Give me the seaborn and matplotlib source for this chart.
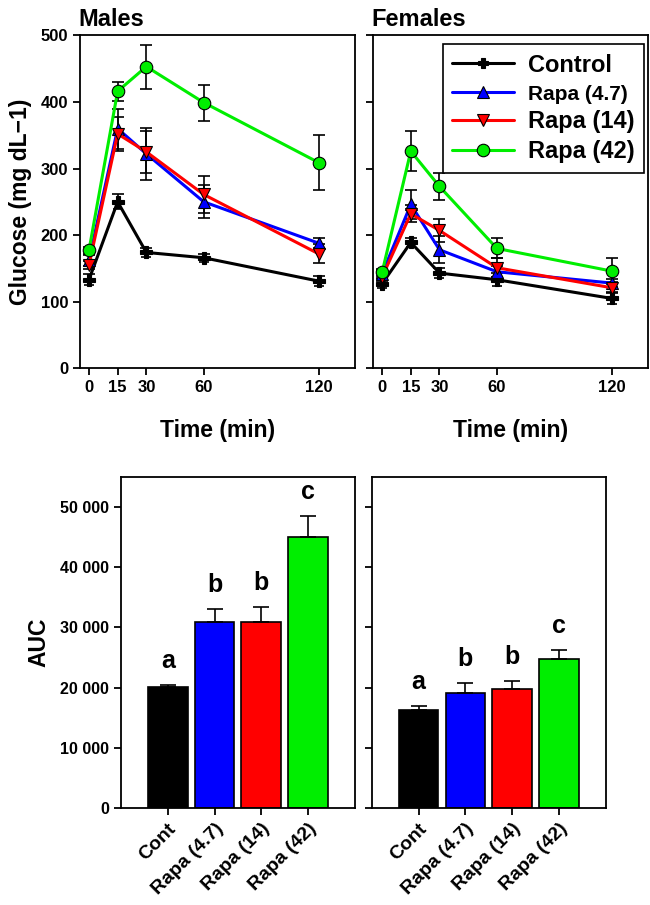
import numpy as np
import pandas as pd
import matplotlib
matplotlib.use('Agg')
import matplotlib.pyplot as plt
import matplotlib.ticker as mticker
import seaborn as sns

sns.set_style('ticks')
plt.rcParams['font.family'] = ['Liberation Sans', 'DejaVu Sans']
plt.rcParams['font.weight'] = 'bold'
plt.rcParams['axes.labelweight'] = 'bold'
for k in ['text.color', 'axes.labelcolor', 'xtick.color', 'ytick.color', 'axes.edgecolor']:
    plt.rcParams[k] = 'black'

# Groups and colours
groups = ['Control', 'Rapa (4.7)', 'Rapa (14)', 'Rapa (42)']
bar_labels = ['Cont', 'Rapa (4.7)', 'Rapa (14)', 'Rapa (42)']
colors = ['#000000', '#0000ff', '#ff0000', '#00ee00']
markers = ['P', '^', 'v', 'o']

# Time points (min)
times = [0, 15, 30, 60, 120]

# Glucose means / SEM, males
male_ctrl = [133, 250, 174, 166, 131]
male_r47 = [162, 360, 322, 250, 188]
male_r14 = [155, 352, 325, 261, 172]
male_r42 = [177, 416, 453, 399, 309]
male_ctrl_err = [8, 11, 7, 6, 7]
male_r47_err = [8, 30, 39, 25, 8]
male_r14_err = [6, 26, 32, 28, 14]
male_r42_err = [5, 14, 33, 27, 41]

# Glucose means / SEM, females
fem_ctrl = [127, 189, 143, 133, 105]
fem_r47 = [142, 246, 178, 145, 128]
fem_r14 = [137, 232, 207, 151, 121]
fem_r42 = [144, 326, 273, 180, 146]
fem_ctrl_err = [7, 7, 8, 10, 9]
fem_r47_err = [6, 22, 20, 8, 6]
fem_r14_err = [6, 13, 17, 14, 8]
fem_r42_err = [5, 30, 20, 15, 19]

# AUC
male_auc = [20100, 30900, 30950, 45000]
male_auc_err = [330, 2200, 2450, 3450]
fem_auc = [16280, 19100, 19770, 24750]
fem_auc_err = [680, 1650, 1350, 1500]
male_letters = ['a', 'b', 'b', 'c']
fem_letters = ['a', 'b', 'b', 'c']

palette = dict(zip(groups, colors))
bar_palette = dict(zip(bar_labels, colors))
marker_dict = dict(zip(groups, markers))

fig = plt.figure(figsize=(6.5, 9.05), dpi=100, facecolor='w')
ax_m = fig.add_axes([0.123, 0.593, 0.423, 0.368])
ax_f = fig.add_axes([0.574, 0.593, 0.423, 0.368])
ax_mb = fig.add_axes([0.186, 0.107, 0.360, 0.366])
ax_fb = fig.add_axes([0.572, 0.107, 0.360, 0.366])


def line_panel(ax, means, errs, title):
    rows = []
    for g, vals in zip(groups, means):
        for t, v in zip(times, vals):
            rows.append({'time': t, 'glucose': v, 'group': g})
    df = pd.DataFrame(rows)
    for g, vals, e in zip(groups, means, errs):
        ax.errorbar(times, vals, yerr=e, fmt='none', ecolor='black',
                    elinewidth=1.2, capsize=4, capthick=1.2, zorder=2)
    sns.lineplot(ax=ax, data=df, x='time', y='glucose', hue='group', style='group',
                 palette=palette, markers=marker_dict, dashes=False, linewidth=2.2,
                 markersize=9, markeredgecolor='black', markeredgewidth=0.8,
                 legend=False, zorder=3)
    for ln, g in zip(ax.lines, groups):
        if g == 'Control':
            ln.set_markersize(7)
    ax.set_xlim(-4.7, 139)
    ax.set_ylim(0, 500)
    ax.set_xticks(times)
    ax.set_yticks([0, 100, 200, 300, 400, 500])
    ax.set_xlabel('Time (min)', fontsize=16.5, fontweight='bold', labelpad=17)
    ax.set_title(title, loc='left', fontsize=17, fontweight='bold', pad=7, x=-0.005)
    ax.tick_params(labelsize=12, width=1.3, length=5)
    for s in ax.spines.values():
        s.set_linewidth(1.3)
    for lab in ax.get_xticklabels() + ax.get_yticklabels():
        lab.set_fontweight('bold')


line_panel(ax_m, [male_ctrl, male_r47, male_r14, male_r42],
           [male_ctrl_err, male_r47_err, male_r14_err, male_r42_err], 'Males')
line_panel(ax_f, [fem_ctrl, fem_r47, fem_r14, fem_r42],
           [fem_ctrl_err, fem_r47_err, fem_r14_err, fem_r42_err], 'Females')
ax_m.set_ylabel('Glucose (mg dL\u22121)', fontsize=16.5, fontweight='bold', labelpad=6)
ax_f.set_ylabel('')
ax_f.tick_params(labelleft=False)

# Legend
handles = []
for g, c, m in zip(groups, colors, markers):
    h, = ax_f.plot([], [], color=c, marker=m, markersize=7 if g == 'Control' else 9,
                   markeredgecolor='black', markeredgewidth=0.8, linewidth=2.2)
    handles.append(h)
leg = ax_f.legend(handles, groups, loc='upper right', bbox_to_anchor=(0.985, 0.973),
                  borderaxespad=0, fancybox=False, framealpha=1, edgecolor='black',
                  handlelength=2.6, prop={'weight': 'bold', 'size': 17}, borderpad=0.4,
                  labelspacing=0.28, handletextpad=0.6)
leg.get_frame().set_linewidth(1.2)
leg.get_texts()[1].set_fontsize(15)


def bar_panel(ax, auc, err, letters, show_labels):
    df = pd.DataFrame({'group': bar_labels, 'auc': auc})
    sns.barplot(ax=ax, data=df, x='group', y='auc', hue='group', palette=bar_palette,
                edgecolor='black', linewidth=1.2, width=0.85, saturation=1,
                legend=False, errorbar=None)
    ax.errorbar(range(len(auc)), auc, yerr=[[0] * len(err), err], fmt='none',
                ecolor='black', elinewidth=1.2, capsize=6, capthick=1.2, zorder=1)
    for i, (v, e, l) in enumerate(zip(auc, err, letters)):
        ax.text(i, v + e + 2000, l, ha='center', va='bottom', fontsize=18, fontweight='bold')
    ax.set_xlim(-1, 4)
    ax.set_ylim(0, 55000)
    ax.set_yticks([0, 10000, 20000, 30000, 40000, 50000])
    ax.yaxis.set_major_formatter(mticker.FuncFormatter(
        lambda v, p: '{:,.0f}'.format(v).replace(',', ' ')))
    ax.set_xlabel('')
    ax.tick_params(labelsize=11.5, width=1.3, length=5)
    ax.set_xticks(range(4))
    ax.set_xticklabels(bar_labels, rotation=45, ha='right', rotation_mode='anchor',
                       fontsize=14, fontweight='bold')
    for lab in ax.get_yticklabels():
        lab.set_fontweight('bold')
    for s in ax.spines.values():
        s.set_linewidth(1.3)
    if not show_labels:
        ax.tick_params(labelleft=False)
        ax.set_ylabel('')
    else:
        ax.set_ylabel('AUC', fontsize=16.5, fontweight='bold', labelpad=7)


bar_panel(ax_mb, male_auc, male_auc_err, male_letters, True)
bar_panel(ax_fb, fem_auc, fem_auc_err, fem_letters, False)

plt.savefig('out.png', dpi=100, facecolor='w')
